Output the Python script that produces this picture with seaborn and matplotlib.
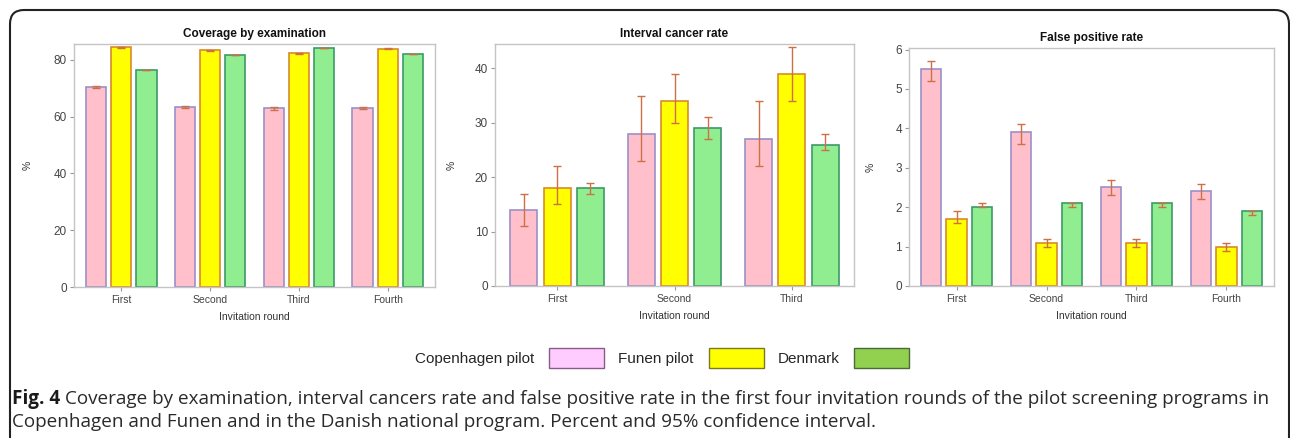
import numpy as np
import pandas as pd
import matplotlib
matplotlib.use("Agg")
import matplotlib.pyplot as plt
from matplotlib.patches import Patch, FancyBboxPatch
from matplotlib.transforms import IdentityTransform
from matplotlib.ticker import MultipleLocator
import seaborn as sns

rounds = ["First", "Second", "Third", "Fourth"]
groups = ["Copenhagen pilot", "Funen pilot", "Denmark"]

# Coverage by examination (%), estimate and 95% CI
cov_cph = [70.5, 63.4, 62.9, 63.1]
cov_cph_lo = [70.1, 63.0, 62.5, 62.7]
cov_cph_hi = [70.9, 63.8, 63.3, 63.5]
cov_fun = [84.4, 83.4, 82.3, 83.9]
cov_fun_lo = [84.2, 83.2, 82.1, 83.7]
cov_fun_hi = [84.6, 83.6, 82.5, 84.1]
cov_dk = [76.4, 81.8, 84.2, 82.1]
cov_dk_lo = [76.3, 81.7, 84.1, 82.0]
cov_dk_hi = [76.5, 81.9, 84.3, 82.2]

# Interval cancer rate
icr_cph = [14, 28, 27]
icr_cph_lo = [11, 23, 22]
icr_cph_hi = [17, 35, 34]
icr_fun = [18, 34, 39]
icr_fun_lo = [15, 30, 34]
icr_fun_hi = [22, 39, 44]
icr_dk = [18, 29, 26]
icr_dk_lo = [17, 27, 25]
icr_dk_hi = [19, 31, 28]

# False positive rate
fpr_cph = [5.5, 3.9, 2.5, 2.4]
fpr_cph_lo = [5.2, 3.6, 2.3, 2.2]
fpr_cph_hi = [5.7, 4.1, 2.7, 2.6]
fpr_fun = [1.7, 1.1, 1.1, 1.0]
fpr_fun_lo = [1.6, 1.0, 1.0, 0.9]
fpr_fun_hi = [1.9, 1.2, 1.2, 1.1]
fpr_dk = [2.0, 2.1, 2.1, 1.9]
fpr_dk_lo = [2.0, 2.0, 2.0, 1.8]
fpr_dk_hi = [2.1, 2.1, 2.1, 1.9]

fills = ["#ffc0cb", "#ffff00", "#90ee90"]
edges = ["#9b90c8", "#d88a2c", "#3c9a68"]
err_col = "#cf6f45"

sns.set_theme(style="white")
plt.rcParams["font.family"] = ["Liberation Sans", "DejaVu Sans"]

W, H = 1290, 438
fig = plt.figure(figsize=(W / 100, H / 100), dpi=100)


def make_df(vals, los, his, n):
    rows = []
    for g, v, lo, hi in zip(groups, vals, los, his):
        for r, a, b, c in zip(rounds[:n], v, lo, hi):
            rows.append({"round": r, "group": g, "value": a, "lo": b, "hi": c})
    return pd.DataFrame(rows)


def panel(rect, df, title, ymax, ystep, ylab_x):
    l, t, r, b = rect
    ax = fig.add_axes([l / W, 1 - b / H, (r - l) / W, (b - t) / H])
    sns.barplot(data=df, x="round", y="value", hue="group", hue_order=groups,
                palette=fills, saturation=1, width=0.85, gap=0.19, errorbar=None,
                legend=False, linewidth=1.2, ax=ax)
    for cont, ec, g in zip(ax.containers, edges, groups):
        sub = df[df["group"] == g]
        for bar, (_, row) in zip(cont, sub.iterrows()):
            bar.set_edgecolor(ec)
            x = bar.get_x() + bar.get_width() / 2
            ax.errorbar(x, row["value"],
                        yerr=[[row["value"] - row["lo"]], [row["hi"] - row["value"]]],
                        color=err_col, lw=1.0, capsize=3, capthick=1.0, zorder=5)
    n = df["round"].nunique()
    ax.set_xlim(-0.53, n - 1 + 0.53)
    ax.set_ylim(0, ymax)
    ax.yaxis.set_major_locator(MultipleLocator(ystep))
    ax.set_title(title, fontsize=8.5, fontweight="bold", pad=5, color="#111")
    ax.set_xlabel("Invitation round", fontsize=7.5, color="#333", labelpad=5)
    ax.set_ylabel("%", fontsize=7.5, color="#333")
    ax.yaxis.set_label_coords(ylab_x, 0.5)
    for s in ax.spines.values():
        s.set_color("#c4c4c4")
        s.set_linewidth(1.0)
    ax.tick_params(axis="both", which="major", length=3, width=0.8,
                   color="#999", labelcolor="#444", bottom=True, left=True)
    ax.tick_params(axis="x", labelsize=7.5, pad=3)
    ax.tick_params(axis="y", labelsize=8.5, pad=2)
    return ax


panel((74, 44, 435, 287),
      make_df([cov_cph, cov_fun, cov_dk], [cov_cph_lo, cov_fun_lo, cov_dk_lo],
              [cov_cph_hi, cov_fun_hi, cov_dk_hi], 4),
      "Coverage by examination", 85.6, 20, -41 / 361)
panel((495, 44, 854, 286),
      make_df([icr_cph, icr_fun, icr_dk], [icr_cph_lo, icr_fun_lo, icr_dk_lo],
              [icr_cph_hi, icr_fun_hi, icr_dk_hi], 3),
      "Interval cancer rate", 44.5, 10, -38 / 359)
panel((909, 48, 1274, 286),
      make_df([fpr_cph, fpr_fun, fpr_dk], [fpr_cph_lo, fpr_fun_lo, fpr_dk_lo],
              [fpr_cph_hi, fpr_fun_hi, fpr_dk_hi], 4),
      "False positive rate", 6.04, 1, -33 / 365)

# legend: label first, then coloured box
leg_fills = ["#ffccff", "#ffff00", "#92d050"]
leg_edges = ["#8a5a8a", "#7a7a20", "#4a6a3a"]
handles = [Patch(facecolor=f, edgecolor=e, lw=1) for f, e in zip(leg_fills, leg_edges)]
fig.legend(handles, groups, loc="center", bbox_to_anchor=(662 / W, 1 - 358 / H),
           ncol=3, frameon=False, markerfirst=False, fontsize=11,
           handlelength=3.6, handleheight=1.55, handletextpad=1.0,
           columnspacing=0.9, borderpad=0)

# caption
cap1 = ("Coverage by examination, interval cancers rate and false positive rate in the first four "
        "invitation rounds of the pilot screening programs in")
cap2 = "Copenhagen and Funen and in the Danish national program. Percent and 95% confidence interval."
fs = 13.6
t0 = fig.text(12 / W, 1 - 399 / H, "Fig. 4", fontsize=fs, fontweight="bold",
              family=["Open Sans", "DejaVu Sans"], color="#1a1a1a", va="center")
fig.canvas.draw()
ext = t0.get_window_extent(fig.canvas.get_renderer())
fig.text((ext.x1 + 5) / W, 1 - 399 / H, cap1, fontsize=fs,
         family=["Open Sans", "DejaVu Sans"], color="#2a2a2a", va="center")
fig.text(12 / W, 1 - 422 / H, cap2, fontsize=fs,
         family=["Open Sans", "DejaVu Sans"], color="#2a2a2a", va="center")

# rounded outer frame
frame = FancyBboxPatch((10, -30), 1279, H - 10 + 30,
                       boxstyle="round,pad=0,rounding_size=14",
                       transform=IdentityTransform(), fill=False,
                       edgecolor="#222", lw=1.5)
fig.patches.append(frame)

fig.savefig("out.png", dpi=100)
